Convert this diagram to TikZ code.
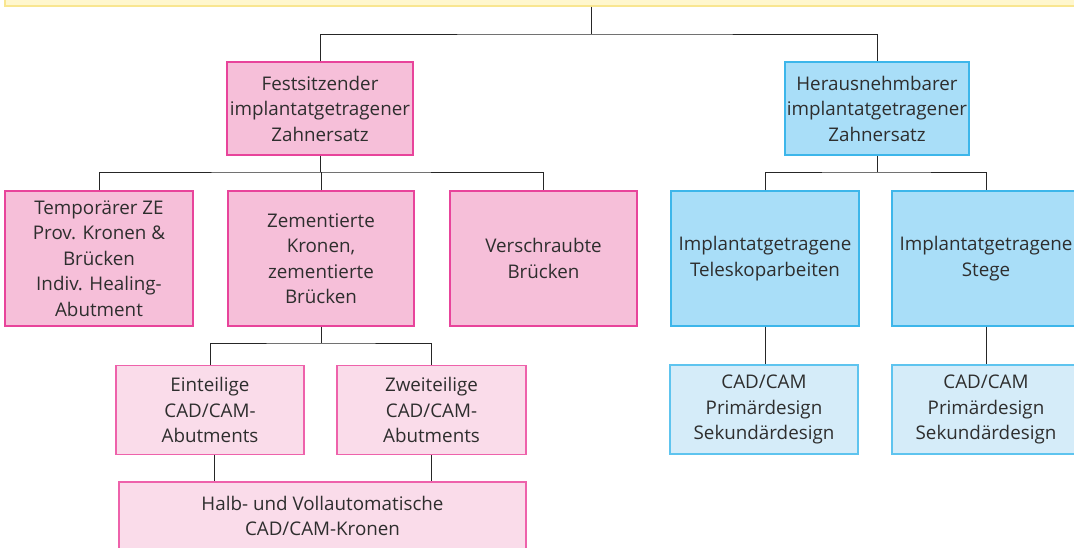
\documentclass[tikz,border=0pt]{standalone}
\usepackage{fontspec}
\setmainfont{Open Sans}
\definecolor{txt}{HTML}{2E2E2E}
\definecolor{pinkF}{HTML}{F6BFD9}
\definecolor{pinkD}{HTML}{E8449B}
\definecolor{lpinkF}{HTML}{FADCEA}
\definecolor{lpinkD}{HTML}{EE62AB}
\definecolor{blueF}{HTML}{A9DEF8}
\definecolor{blueD}{HTML}{3DB6EA}
\definecolor{lblueF}{HTML}{D5ECF9}
\definecolor{lblueD}{HTML}{5EC4EF}
\definecolor{yelF}{HTML}{FFF7CE}
\definecolor{yelD}{HTML}{F9E690}
\tikzset{
  box/.style={rectangle, line width=1.1pt, align=center, inner sep=0pt, text=txt,
    font=\fontsize{18.8}{25.5}\selectfont},
  pinkbox/.style={box, fill=pinkF, draw=pinkD},
  lpinkbox/.style={box, fill=lpinkF, draw=lpinkD},
  bluebox/.style={box, fill=blueF, draw=blueD},
  lbluebox/.style={box, fill=lblueF, draw=lblueD},
  yelbox/.style={box, fill=yelF, draw=yelD},
  conn/.style={draw=black!85, line width=1pt}
}
\begin{document}
\begin{tikzpicture}[x=1pt,y=-1pt]
\useasboundingbox (0,0) rectangle (1074,547);
\clip (0,0) rectangle (1074,547);
% boxes
\node[yelbox, minimum width=1090, minimum height=36] (top) at (550,-12) {};
\node[pinkbox, minimum width=186, minimum height=93] (fest) at (320,108.5) {Festsitzender\\implantatgetragener\\Zahnersatz};
\node[bluebox, minimum width=184, minimum height=93] (heraus) at (877,108.5) {Herausnehmbarer\\implantatgetragener\\Zahnersatz};
\node[pinkbox, minimum width=188, minimum height=135] (temp) at (99,258.5) {Temporärer ZE\\Prov. Kronen \&\\Brücken\\Indiv. Healing-\\Abutment};
\node[pinkbox, minimum width=186, minimum height=135] (zem) at (321,258.5) {Zementierte\\Kronen,\\zementierte\\Brücken};
\node[pinkbox, minimum width=187, minimum height=135] (vers) at (543.5,258.5) {Verschraubte\\Brücken};
\node[bluebox, minimum width=188, minimum height=135] (tele) at (765,258.5) {Implantatgetragene\\Teleskoparbeiten};
\node[bluebox, minimum width=188, minimum height=135] (stege) at (986,258.5) {Implantatgetragene\\Stege};
\node[lpinkbox, minimum width=188, minimum height=89] (ein) at (210,410) {Einteilige\\CAD/CAM-\\Abutments};
\node[lpinkbox, minimum width=189, minimum height=89] (zwei) at (431.5,410) {Zweiteilige\\CAD/CAM-\\Abutments};
\node[lpinkbox, minimum width=407, minimum height=68] (halb) at (322.5,516) {Halb- und Vollautomatische\\CAD/CAM-Kronen};
\node[lbluebox, minimum width=188, minimum height=89] (cad1) at (764,409.5) {CAD/CAM\\Primärdesign\\Sekundärdesign};
\node[lbluebox, minimum width=188, minimum height=89] (cad2) at (986,409.5) {CAD/CAM\\Primärdesign\\Sekundärdesign};
% junctions
\coordinate (j0) at (591,34);
\coordinate (j1) at (321,172);
\coordinate (j2) at (877,172);
\coordinate (j3) at (321,343);
% connectors
\draw[conn] (top.south -| j0) -- (j0);
\draw[conn] (fest.north) |- (j0) -| (heraus.north);
\draw[conn] (fest.south) -- (fest.south |- j1);
\draw[conn] (temp.north) |- (j1) -| (vers.north);
\draw[conn] (zem.north) -- (zem.north |- j1);
\draw[conn] (heraus.south) -- (j2);
\draw[conn] (tele.north) |- (j2) -| (stege.north);
\draw[conn] (zem.south) -- (j3);
\draw[conn] (ein.north) |- (j3) -| (zwei.north);
\draw[conn] ([xshift=4pt]ein.south) -- ([xshift=4pt]ein.south |- halb.north);
\draw[conn] (zwei.south) -- (zwei.south |- halb.north);
\draw[conn] (tele.south) -- (tele.south |- cad1.north);
\draw[conn] (stege.south) -- (stege.south |- cad2.north);
\end{tikzpicture}
\end{document}
